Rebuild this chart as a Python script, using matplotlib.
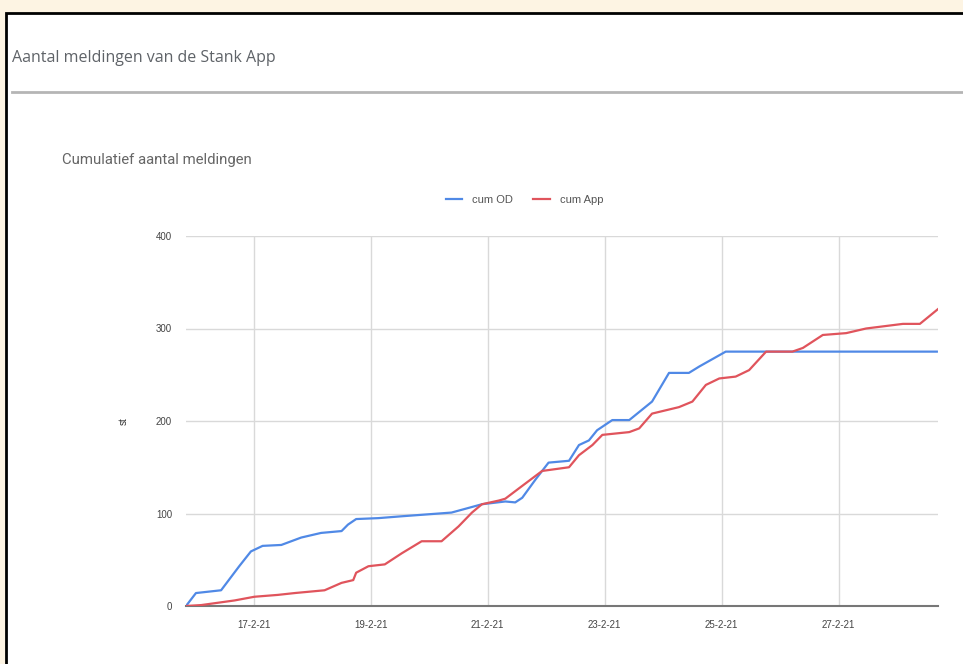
import numpy as np
import pandas as pd
import matplotlib
matplotlib.use("Agg")
import matplotlib.pyplot as plt
from matplotlib.patches import Rectangle
from matplotlib.lines import Line2D

# dag in februari 2021 (fractie = tijdstip), cumulatieve aantallen
od_dag = [15.84, 16.01, 16.44, 16.75, 16.95, 17.15, 17.47, 17.81, 18.15, 18.50,
          18.61, 18.75, 19.13, 19.53, 20.38, 20.67, 20.90, 21.30, 21.47, 21.59,
          21.82, 22.04, 22.39, 22.56, 22.73, 22.87, 23.13, 23.42, 23.81, 24.10,
          24.44, 24.62, 25.07, 28.68]
od_cum = [0, 14, 17, 43, 59, 65, 66, 74, 79, 81,
          88, 94, 95, 97, 101, 106, 110, 113, 112, 117,
          137, 155, 157, 174, 179, 190, 201, 201, 221, 252,
          252, 259, 275, 275]

app_dag = [15.84, 16.10, 16.67, 17.01, 17.41, 17.70, 18.21, 18.50, 18.70, 18.75,
           18.96, 19.24, 19.53, 19.87, 20.21, 20.50, 20.73, 20.90, 21.19, 21.30,
           21.53, 21.93, 22.39, 22.56, 22.79, 22.96, 23.42, 23.59, 23.81, 24.27,
           24.50, 24.73, 24.96, 25.24, 25.47, 25.76, 26.21, 26.39, 26.73, 27.13,
           27.47, 28.10, 28.39, 28.70]
app_cum = [0, 1, 6, 10, 12, 14, 17, 25, 28, 36,
           43, 45, 57, 70, 70, 86, 101, 110, 114, 116,
           127, 146, 150, 163, 174, 185, 188, 192, 208, 215,
           221, 239, 246, 248, 255, 275, 275, 279, 293, 295,
           300, 305, 305, 321]

tick_datums = ["2021-02-17", "2021-02-19", "2021-02-21", "2021-02-23", "2021-02-25", "2021-02-27"]
tick_labels = ["17-2-21", "19-2-21", "21-2-21", "23-2-21", "25-2-21", "27-2-21"]
y_ticks = [0, 100, 200, 300, 400]


def naar_tijd(dagen):
    return pd.Timestamp("2021-02-01") + pd.to_timedelta(np.array(dagen) - 1, unit="D")


W, H = 963, 664
fig = plt.figure(figsize=(W / 100, H / 100), dpi=100)
fig.patch.set_facecolor("#fdf4e3")

# wit paneel met zwarte rand (loopt door buiten beeld)
fig.patches.append(Rectangle((6 / W, 0 - 0.1), 1.2, 1 - 13 / H + 0.1, transform=fig.transFigure,
                             facecolor="white", edgecolor="black", linewidth=2, zorder=-5))
fig.add_artist(Line2D([12 / W, 1], [1 - 92 / H] * 2, color="#b5b5b5", linewidth=2))

fig.text(12 / W, 1 - 58 / H, "Aantal meldingen van de Stank App", fontsize=11.5,
         family="Open Sans", color="#5f6368", va="center", ha="left")
fig.text(62 / W, 1 - 160 / H, "Cumulatief aantal meldingen", fontsize=10.7,
         family="Roboto", color="#666666", va="center", ha="left")

ax = fig.add_axes([186 / W, 1 - 606 / H, 752 / W, 370 / H])
ax.set_zorder(2)
ax.set_facecolor("white")

od_t = naar_tijd(od_dag)
app_t = naar_tijd(app_dag)
ax.plot(od_t, od_cum, color="#5089e6", linewidth=1.6, label="cum OD", zorder=3)
ax.plot(app_t, app_cum, color="#e0545c", linewidth=1.6, label="cum App", zorder=3)

ax.set_xlim(od_t[0], app_t[-1])
ax.set_ylim(0, 400)
ax.set_yticks(y_ticks)
ax.set_xticks(pd.to_datetime(tick_datums))
ax.set_xticklabels(tick_labels)
ax.grid(True, color="#d9d9d9", linewidth=1)
ax.set_axisbelow(True)
for s in ["top", "right", "left"]:
    ax.spines[s].set_visible(False)
ax.spines["bottom"].set_color("#777777")
ax.spines["bottom"].set_linewidth(1.5)
ax.tick_params(length=0, labelsize=7, labelcolor="#444444", pad=10)
for lab in ax.get_xticklabels() + ax.get_yticklabels():
    lab.set_family("Liberation Sans")

ax.set_ylabel("st", fontsize=7, color="#333333", labelpad=20, family="Liberation Sans")

leg = ax.legend(loc="center", bbox_to_anchor=(0.45, 1.097), ncol=2, frameon=False,
                fontsize=8, handlelength=1.5, columnspacing=1.8, handletextpad=0.9)
for txt in leg.get_texts():
    txt.set_color("#555555")
    txt.set_family("Liberation Sans")

fig.savefig("out.png", dpi=100, facecolor=fig.get_facecolor())
